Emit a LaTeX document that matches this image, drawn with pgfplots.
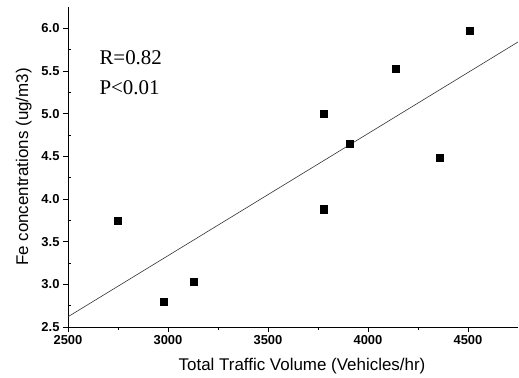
\documentclass[border=0pt]{standalone}
\usepackage{pgfplots}
\pgfplotsset{compat=1.18}
\usepackage{fontspec}
\setmainfont{Liberation Sans}
\newfontfamily\serifface{Liberation Serif}

\begin{document}
\begin{tikzpicture}
\begin{axis}[
  scale only axis,
  width=450bp, height=320bp,
  xmin=2500, xmax=4750,
  ymin=2.5, ymax=6.25,
  axis lines*=left,
  axis line style={line width=0.9bp},
  xtick={2500,3000,3500,4000,4500},
  ytick={2.5,3.0,...,6.0},
  minor xtick={2750,3250,3750,4250},
  extra y ticks={2.75,3.25,3.75,4.25,4.75,5.25,5.75},
  extra y tick labels={},
  extra y tick style={tick align=inside, major tick length=3bp},
  tick align=outside,
  major tick length=5bp,
  minor tick length=3bp,
  tick style={line width=0.8bp, black},
  /pgf/number format/assume math mode=true,
  xticklabel style={font=\fontsize{13}{15}\selectfont\bfseries, /pgf/number format/set thousands separator={}},
  yticklabel style={font=\fontsize{13}{15}\selectfont\bfseries, /pgf/number format/fixed, /pgf/number format/fixed zerofill, /pgf/number format/precision=1},
  xlabel={Total Traffic Volume (Vehicles/hr)},
  ylabel={Fe concentrations (ug/m3)},
  label style={font=\fontsize{17}{20}\selectfont},
  xlabel style={yshift=-7bp, xshift=9bp},
  ylabel style={yshift=-2bp},
  clip=false,
]
% measured site values
\addplot[only marks, mark=square*, mark size=3.6bp, black] coordinates {
  (2750,3.75) (2980,2.80) (3130,3.03) (3780,3.88) (3780,5.00)
  (3910,4.65) (4140,5.53) (4360,4.48) (4510,5.97)
};
% least-squares fit
\addplot[no marks, line width=0.6bp, black!80] coordinates {(2500,2.62) (4750,5.84)};
\node[anchor=west, font=\serifface\fontsize{21}{23}\selectfont] at (axis cs:2640,5.66) {R=0.82};
\node[anchor=west, font=\serifface\fontsize{21}{23}\selectfont] at (axis cs:2640,5.31) {P<0.01};
\end{axis}
\useasboundingbox (current axis.south west) ++(-68bp,-51bp) rectangle ([shift={(1bp,7bp)}]current axis.north east);
\end{tikzpicture}
\end{document}
